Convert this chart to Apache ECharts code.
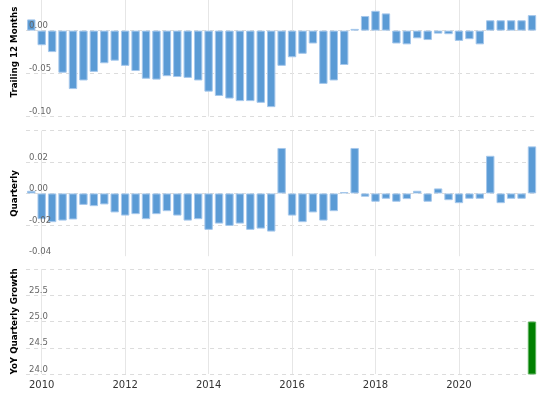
<!DOCTYPE html>
<html>
<head>
<meta charset="utf-8">
<script src="https://cdn.jsdelivr.net/npm/echarts@6/dist/echarts.min.js"></script>
<style>html,body{margin:0;padding:0;background:#fff}#c{width:550px;height:407px}</style>
</head>
<body>
<div id="c"></div>
<script>
const categories = [
 '2009-09-30','2009-12-31','2010-03-31','2010-06-30','2010-09-30','2010-12-31','2011-03-31','2011-06-30','2011-09-30','2011-12-31',
 '2012-03-31','2012-06-30','2012-09-30','2012-12-31','2013-03-31','2013-06-30','2013-09-30','2013-12-31','2014-03-31','2014-06-30',
 '2014-09-30','2014-12-31','2015-03-31','2015-06-30','2015-09-30','2015-12-31','2016-03-31','2016-06-30','2016-09-30','2016-12-31',
 '2017-03-31','2017-06-30','2017-09-30','2017-12-31','2018-03-31','2018-06-30','2018-09-30','2018-12-31','2019-03-31','2019-06-30',
 '2019-09-30','2019-12-31','2020-03-31','2020-06-30','2020-09-30','2020-12-31','2021-03-31','2021-06-30','2021-09-30'
];
const trailing12 = [0.013,-0.017,-0.025,-0.049,-0.068,-0.058,-0.048,-0.038,-0.035,-0.041,
 -0.047,-0.056,-0.057,-0.053,-0.054,-0.055,-0.058,-0.071,-0.076,-0.079,
 -0.082,-0.082,-0.084,-0.089,-0.041,-0.031,-0.027,-0.015,-0.062,-0.058,
 -0.040,0.002,0.017,0.023,0.020,-0.015,-0.016,-0.009,-0.011,-0.0035,
 -0.0042,-0.012,-0.010,-0.016,0.012,0.012,0.012,0.012,0.018];
const quarterly = [0.0017,-0.0164,-0.0183,-0.0173,-0.0166,-0.0073,-0.0081,-0.0070,-0.0121,-0.0141,
 -0.0132,-0.0164,-0.0132,-0.0113,-0.0141,-0.0173,-0.0164,-0.0232,-0.0192,-0.0207,
 -0.0192,-0.0232,-0.0224,-0.0243,0.029,-0.0141,-0.0183,-0.0121,-0.0173,-0.0113,
 0.0009,0.029,-0.0021,-0.0053,-0.0034,-0.0053,-0.0036,0.0017,-0.0053,0.0032,
 -0.0043,-0.0062,-0.0034,-0.0034,0.024,-0.0062,-0.0034,-0.0034,0.030];
const yoyDates = ['2021-09-30'];
const yoyValues = [25.0];
const tickDates = ['2009-12-31','2011-12-31','2013-12-31','2015-12-31','2017-12-31','2019-12-31'];
const tickLabels = ['2010','2012','2014','2016','2018','2020'];
const axisNames = ['Trailing 12 Months','Quarterly','YoY Quarterly Growth'];

const FONT = 'DejaVu Sans';
const isTick = (i, v) => tickDates.indexOf(v) >= 0;
const grids = [
  {left: 26.05, right: 12.8, top: -12.4, height: 129, outerBoundsMode: 'none'},
  {left: 26.05, right: 12.8, top: 130.7, height: 125.5, outerBoundsMode: 'none'},
  {left: 26.05, right: 12.8, top: 269, height: 105, outerBoundsMode: 'none'}
];
const xAxes = [0,1,2].map(g => ({
  type: 'category', gridIndex: g, data: categories, boundaryGap: true,
  axisLine: {show: false}, axisTick: {show: false},
  axisLabel: {show: g === 2, interval: isTick, margin: 6, color: '#333', fontSize: 10, fontFamily: FONT,
    formatter: v => tickLabels[tickDates.indexOf(v)]},
  splitLine: {show: true, interval: isTick, alignWithLabel: true, lineStyle: {color: '#e6e6e6', width: 1}}
}));
const ranges = [
  {min: -0.10, max: 0.05, interval: 0.05, fmt: v => v.toFixed(2), showMin: true},
  {min: -0.04, max: 0.04, interval: 0.02, fmt: v => v.toFixed(2), showMin: false},
  {min: 24, max: 26, interval: 0.5, fmt: v => v.toFixed(1), showMin: true}
];
const yAxes = [];
ranges.forEach((r, g) => {
  yAxes.push({
    type: 'value', gridIndex: g, position: 'left', min: r.min, max: r.max, interval: r.interval,
    name: axisNames[g], nameLocation: 'middle', nameGap: 7, nameMoveOverlap: false,
    nameTextStyle: {color: '#000', fontWeight: 'bold', fontSize: 8.7, fontFamily: FONT},
    axisLine: {show: false}, axisTick: {show: false}, axisLabel: {show: false},
    splitLine: {show: true, showMinLine: r.showMin, lineStyle: {color: '#dcdcdc', type: [4, 4], width: 1}}
  });
  yAxes.push({
    type: 'value', gridIndex: g, position: 'left', min: r.min, max: r.max, interval: r.interval, z: 10,
    axisLine: {show: false}, axisTick: {show: false}, splitLine: {show: false},
    axisLabel: {inside: true, margin: 3, verticalAlign: 'bottom', showMaxLabel: false,
      color: '#666', fontSize: 8.5, fontFamily: FONT, formatter: r.fmt}
  });
});
const blueStyle = {color: '#5b9bd5', borderColor: '#a6c8ec', borderWidth: 1};
const option = {
  animation: false,
  grid: grids,
  xAxis: xAxes,
  yAxis: yAxes,
  series: [
    {type: 'bar', xAxisIndex: 0, yAxisIndex: 0, data: trailing12, barWidth: 8.4, itemStyle: blueStyle},
    {type: 'bar', xAxisIndex: 1, yAxisIndex: 2, data: quarterly, barWidth: 8.4, itemStyle: blueStyle},
    {type: 'bar', xAxisIndex: 2, yAxisIndex: 4, data: yoyDates.map((d, i) => [d, yoyValues[i]]), barWidth: 8.4,
      itemStyle: {color: '#008000', borderColor: '#5fb35f', borderWidth: 1}}
  ]
};
echarts.init(document.getElementById('c'), null, {renderer: 'canvas'}).setOption(option);
</script>
</body>
</html>
